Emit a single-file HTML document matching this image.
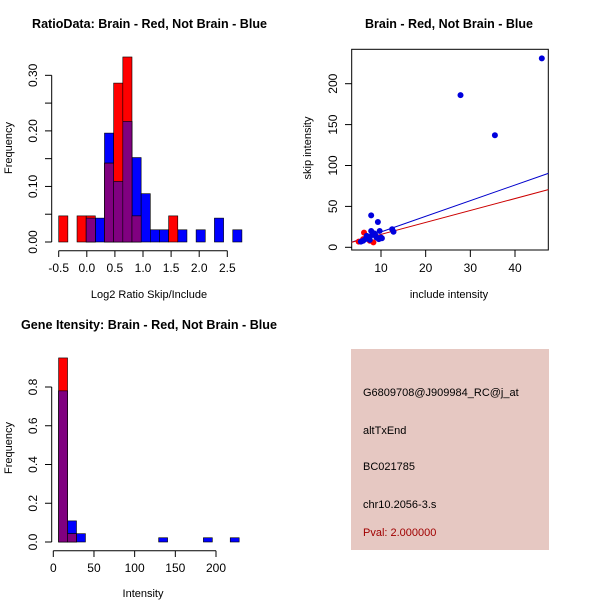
<!DOCTYPE html>
<html><head><meta charset="utf-8"><style>
body{margin:0;background:#fff;}
svg text{font-family:"Liberation Sans",Arial,sans-serif;}
</style></head><body>
<svg id="s" width="600" height="600" xmlns="http://www.w3.org/2000/svg">
<rect width="600" height="600" fill="#fff"/>
<text x="149.5" y="28" font-size="12.5" font-weight="bold" text-anchor="middle" textLength="235" lengthAdjust="spacingAndGlyphs">RatioData: Brain - Red, Not Brain - Blue</text>
<text x="449" y="28" font-size="12.5" font-weight="bold" text-anchor="middle" textLength="168" lengthAdjust="spacingAndGlyphs">Brain - Red, Not Brain - Blue</text>
<text x="149" y="329" font-size="12.5" font-weight="bold" text-anchor="middle" textLength="256" lengthAdjust="spacingAndGlyphs">Gene Itensity: Brain - Red, Not Brain - Blue</text>
<rect x="351" y="349" width="198" height="201" fill="#e6c8c2"/>
<text x="363" y="396" font-size="11">G6809708@J909984_RC@j_at</text>
<text x="363" y="434" font-size="11">altTxEnd</text>
<text x="363" y="470" font-size="11">BC021785</text>
<text x="363" y="508" font-size="11">chr10.2056-3.s</text>
<text x="363" y="536" font-size="11" fill="#a00000">Pval: 2.000000</text>
</svg>
<script>
// Ratio histogram data (bins start -0.5, width 0.163)
const ratioBinStart=-0.5, ratioBinWidth=0.163;
const ratioRed=[0.047,0,0.047,0.047,0,0.142,0.286,0.333,0.047,0,0,0,0.047,0,0,0,0,0,0,0];
const ratioBlue=[0,0,0,0.043,0.043,0.196,0.109,0.217,0.152,0.087,0.022,0.022,0,0.022,0,0.022,0,0.043,0,0.022];
const ratioXTicks=[-0.5,0,0.5,1,1.5,2,2.5];
const ratioXLabels=["-0.5","0.0","0.5","1.0","1.5","2.0","2.5"];
const ratioYTicks=[0,0.05,0.1,0.15,0.2,0.25,0.3];
const ratioYLabels=["0.00","","0.10","","0.20","","0.30"];
// Intensity histogram
const intBinStarts=[6.5,17.5,28.5,129.5,184.5,217.5];
const intBinWidth=11;
const intRed=[0.95,0.043,0,0,0,0];
const intBlue=[0.78,0.109,0.043,0.022,0.022,0.022];
const intXTicks=[0,50,100,150,200];
const intYTicks=[0,0.2,0.4,0.6,0.8];
const intYLabels=["0.0","0.2","0.4","0.6","0.8"];
// Scatter
const blueX=[46,27.8,35.5,7.8,9.3,12.5,12.8,7.8,9.7,10.2,9.5,8,8.5,7,6.5,6,5.5,8.8,9,7.5,6.8,10];
const blueY=[231,186,137,39,31,22,19,20,20,11,10,15,17,12,10,8,7,14,12,9,14,12];
const redX=[6.2,8.3,7,6,5,7.5];
const redY=[18,6,13,10,7,8];
const blueFit=[-0.3,1.91];
const redFit=[1.2,1.46];
const scXTicks=[10,20,30,40];
const scYTicks=[0,50,100,150,200];

const S=document.getElementById('s');const NS='http://www.w3.org/2000/svg';
function mk(t,a,name){const e=document.createElementNS(NS,t);for(const k in a)e.setAttribute(k,a[k]);


S.appendChild(e);return e;}
function txt(x,y,s,name,rot){const e=mk('text',{x:x,y:y,'font-size':12,'text-anchor':'middle'},name);if(rot)e.setAttribute('transform','rotate(-90 '+x+' '+y+')');e.textContent=s;return e;}

// Ratio hist
const rx=v=>58.7+(v+0.5)*56.2, ry=v=>242-v*555.6;
function bars(starts,w,vals,col,sx,sy,name){vals.forEach((v,i)=>{if(v<=0)return;const x0=sx(starts[i]),x1=sx(starts[i]+w);mk('rect',{x:x0,y:sy(v),width:x1-x0,height:sy(0)-sy(v),fill:col,stroke:'#000','stroke-width':0.6},name);});}
const rStarts=ratioRed.map((_,i)=>ratioBinStart+i*ratioBinWidth);
bars(rStarts,ratioBinWidth,ratioBlue,'#0000ff',rx,ry,'ratio-bar-blue');
bars(rStarts,ratioBinWidth,ratioRed,'#ff0000',rx,ry,'ratio-bar-red');
bars(rStarts,ratioBinWidth,ratioRed.map((v,i)=>Math.min(v,ratioBlue[i])),'#800080',rx,ry,'ratio-bar-overlap');
mk('line',{x1:rx(-0.5),x2:rx(2.5),y1:250.7,y2:250.7,stroke:'#000'},'ratio-x-axis');
ratioXTicks.forEach((t,i)=>{mk('line',{x1:rx(t),x2:rx(t),y1:250.7,y2:257,stroke:'#000'},'ratio-x-tick');txt(rx(t),272,ratioXLabels[i],'ratio-x-tick-label');});
mk('line',{x1:51.7,x2:51.7,y1:ry(0),y2:ry(0.3),stroke:'#000'},'ratio-y-axis');
ratioYTicks.forEach((t,i)=>{mk('line',{x1:45,x2:51.7,y1:ry(t),y2:ry(t),stroke:'#000'},'ratio-y-tick');if(ratioYLabels[i])txt(37,ry(t),ratioYLabels[i],'ratio-y-tick-label',true);});
txt(149,298,'Log2 Ratio Skip/Include','ratio-x-title').setAttribute('font-size',11);
txt(12,148,'Frequency','ratio-y-title',true).setAttribute('font-size',11);

// Intensity hist
const ix=v=>53.3+v*0.8135, iy=v=>542-v*193.75;
bars(intBinStarts,intBinWidth,intBlue,'#0000ff',ix,iy,'intensity-bar-blue');
bars(intBinStarts,intBinWidth,intRed,'#ff0000',ix,iy,'intensity-bar-red');
bars(intBinStarts,intBinWidth,intRed.map((v,i)=>Math.min(v,intBlue[i])),'#800080',ix,iy,'intensity-bar-overlap');
mk('line',{x1:ix(0),x2:ix(200),y1:550.7,y2:550.7,stroke:'#000'},'intensity-x-axis');
intXTicks.forEach(t=>{mk('line',{x1:ix(t),x2:ix(t),y1:550.7,y2:557,stroke:'#000'},'intensity-x-tick');txt(ix(t),572,String(t),'intensity-x-tick-label');});
mk('line',{x1:51.7,x2:51.7,y1:iy(0),y2:iy(0.8),stroke:'#000'},'intensity-y-axis');
intYTicks.forEach((t,i)=>{mk('line',{x1:45,x2:51.7,y1:iy(t),y2:iy(t),stroke:'#000'},'intensity-y-tick');txt(37,iy(t),intYLabels[i],'intensity-y-tick-label',true);});
txt(143,597,'Intensity','intensity-x-title').setAttribute('font-size',11);
txt(12,448,'Frequency','intensity-y-title',true).setAttribute('font-size',11);

// Scatter
const sx=v=>381+(v-10)*4.467, sy=v=>247.3-v*0.818;
mk('rect',{x:351.7,y:49.3,width:196.6,height:200.7,fill:'none',stroke:'#000'},'scatter-frame');
const x0=(351.7-381)/4.467+10, x1=(548.3-381)/4.467+10;
mk('line',{x1:sx(x0),y1:sy(blueFit[0]+blueFit[1]*x0),x2:sx(x1),y2:sy(blueFit[0]+blueFit[1]*x1),stroke:'#0000cc'},'blue-fit-line');
mk('line',{x1:sx(x0),y1:sy(redFit[0]+redFit[1]*x0),x2:sx(x1),y2:sy(redFit[0]+redFit[1]*x1),stroke:'#cc0000'},'red-fit-line');
redX.forEach((v,i)=>mk('circle',{cx:sx(v),cy:sy(redY[i]),r:3,fill:'#ff0000'},'red-point'));
blueX.forEach((v,i)=>mk('circle',{cx:sx(v),cy:sy(blueY[i]),r:3,fill:'#0000dd'},'blue-point'));
scXTicks.forEach(t=>{mk('line',{x1:sx(t),x2:sx(t),y1:250,y2:257,stroke:'#000'},'scatter-x-tick');txt(sx(t),272,String(t),'scatter-x-tick-label');});
scYTicks.forEach(t=>{mk('line',{x1:345,x2:351.7,y1:sy(t),y2:sy(t),stroke:'#000'},'scatter-y-tick');txt(337,sy(t),String(t),'scatter-y-tick-label',true);});
txt(449,298,'include intensity','scatter-x-title').setAttribute('font-size',11);
txt(311,148,'skip intensity','scatter-y-title',true).setAttribute('font-size',11);
</script>
</body></html>
